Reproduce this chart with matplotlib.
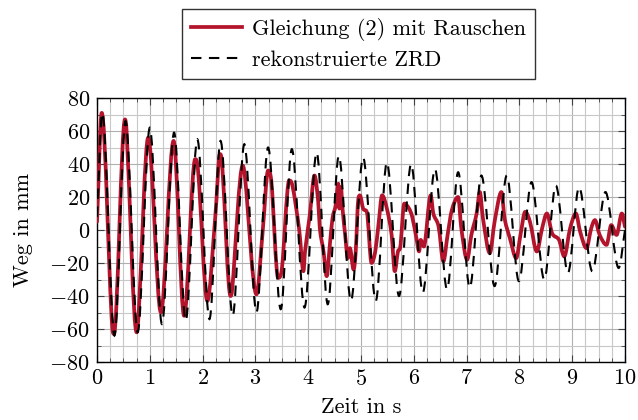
import matplotlib
matplotlib.use("Agg")
import matplotlib.pyplot as plt
from matplotlib.ticker import MultipleLocator
from matplotlib.path import Path
from matplotlib.patches import PathPatch
from matplotlib.lines import Line2D

# ---- data ----
# reconstructed ZRD (black dashed): extrema (time in s, displacement in mm)
zrd_t = [0.0, 0.10, 0.33, 0.54, 0.77, 1.00, 1.23, 1.46, 1.68, 1.90, 2.13, 2.34, 2.57,
         2.79, 3.02, 3.24, 3.48, 3.69, 3.93, 4.16, 4.37, 4.58, 4.81, 5.04, 5.28, 5.49,
         5.72, 5.95, 6.17, 6.40, 6.63, 6.84, 7.06, 7.28, 7.53, 7.76, 7.99, 8.23, 8.47,
         8.69, 8.92, 9.13, 9.38, 9.63, 9.88, 10.0]
zrd_y = [8, 71, -64, 66, -62, 62, -57, 59, -55, 55, -54, 54, -52,
         52, -50, 50, -48, 49, -47, 47, -45, 45, -43, 44, -43, 41,
         -40, 40, -38, 37, -36, 35, -35, 33, -34, 33, -31, 29, -30,
         27, -26, 26, -25, 23, -23, 0]

# equation (2) with noise (red)
eq_t = [0.00, 0.09, 0.29, 0.32, 0.53, 0.56, 0.75, 0.79, 0.97, 1.21, 1.45, 1.65, 1.86,
        1.90, 2.09, 2.24, 2.33, 2.37, 2.53, 2.56, 2.76, 2.80, 3.02, 3.14, 3.24, 3.30,
        3.43, 3.49, 3.64, 3.70, 3.83, 3.91, 3.94, 4.03, 4.12, 4.19, 4.22, 4.29, 4.35,
        4.41, 4.46, 4.52, 4.57, 4.59, 4.62, 4.65, 4.70, 4.75, 4.79, 4.86, 4.90, 4.95,
        4.98, 5.04, 5.11, 5.20, 5.27, 5.33, 5.40, 5.49, 5.58, 5.64, 5.70, 5.74, 5.82,
        5.91, 5.97, 6.05, 6.10, 6.13, 6.19, 6.32, 6.37, 6.47, 6.56, 6.64, 6.72, 6.84,
        6.90, 7.01, 7.09, 7.19, 7.25, 7.31, 7.44, 7.53, 7.66, 7.72, 7.82, 7.94, 8.02,
        8.11, 8.20, 8.33, 8.43, 8.52, 8.62, 8.75, 8.85, 8.96, 9.07, 9.15, 9.27, 9.36,
        9.43, 9.52, 9.65, 9.74, 9.84, 9.94, 10.0]
eq_y = [5, 71, -59, -63, 67, 60, -62, -50, 56, -50, 54, -52, 43,
        40, -43, 8, 46, 40, -40, -36, 39, 33, -39, 0, 36, 30,
        -29, -26, 30, 27, 0, -25, -13, 9, 33, 17, 1, -13, -28,
        -9, 7, 15, 28, 13, 26, 13, -3, -17, -11, -24, -13, 19,
        21, 13, 11, -20, -13, 3, 21, 13, -3, -25, -13, -11, 16,
        13, 8, -5, -13, -6, -10, 21, 10, 2, -19, -3, 12, 20,
        1, -18, -3, 10, 23, 7, -14, 5, 23, 7, -5, -17, -3,
        11, 5, -13, 1, 10, -2, -6, -16, 1, 10, -1, -11, 1,
        6, -3, -9, 3, -3, 10, 2]

x_ticks = [0, 1, 2, 3, 4, 5, 6, 7, 8, 9, 10]
y_ticks = [-80, -60, -40, -20, 0, 20, 40, 60, 80]


def smooth_path(xs, ys):
    """Monotone cubic (Hermite/Bezier) path through the data points, no overshoot."""
    n = len(xs)
    sec = [(ys[i + 1] - ys[i]) / (xs[i + 1] - xs[i]) for i in range(n - 1)]
    m = []
    for i in range(n):
        if i == 0:
            m.append(sec[0])
        elif i == n - 1:
            m.append(sec[-1])
        elif sec[i - 1] * sec[i] <= 0:
            m.append(0.0)
        else:
            g = (ys[i + 1] - ys[i - 1]) / (xs[i + 1] - xs[i - 1])
            lim = 3 * min(abs(sec[i - 1]), abs(sec[i]))
            g = max(-lim, min(lim, g))
            m.append(g)
    verts = [(xs[0], ys[0])]
    codes = [Path.MOVETO]
    for i in range(n - 1):
        h = xs[i + 1] - xs[i]
        verts += [(xs[i] + h / 3, ys[i] + m[i] * h / 3),
                  (xs[i + 1] - h / 3, ys[i + 1] - m[i + 1] * h / 3),
                  (xs[i + 1], ys[i + 1])]
        codes += [Path.CURVE4] * 3
    return Path(verts, codes)


# ---- style ----
plt.rcParams['font.family'] = ['cmr10', 'DejaVu Serif']
plt.rcParams['mathtext.fontset'] = 'cm'
plt.rcParams['axes.formatter.use_mathtext'] = True
plt.rcParams['axes.unicode_minus'] = True

RED = '#B3142C'
fs = 16
RED_LW = 2.7
ZRD_LW = 1.5
DASH = (5.0, 3.6)

fig = plt.figure(figsize=(6.38, 4.20), dpi=100)
ax = fig.add_axes([97/638, 1-362/420, (625-97)/638, (362-98)/420])

red_patch = PathPatch(smooth_path(eq_t, eq_y), fill=False, edgecolor=RED,
                      lw=RED_LW, joinstyle='round', capstyle='round', zorder=3)
ax.add_patch(red_patch)
zrd_patch = PathPatch(smooth_path(zrd_t, zrd_y), fill=False, edgecolor='black',
                      lw=ZRD_LW, linestyle=(0, DASH), capstyle='butt', zorder=4)
ax.add_patch(zrd_patch)

ax.set_xlim(0, 10)
ax.set_ylim(-80, 80)
ax.set_xticks(x_ticks)
ax.set_yticks(y_ticks)
ax.xaxis.set_minor_locator(MultipleLocator(0.25))
ax.yaxis.set_minor_locator(MultipleLocator(10))
ax.grid(which='major', color='#b0b0b0', lw=0.8)
ax.grid(which='minor', color='#c8c8c8', lw=0.8)
ax.set_axisbelow(True)
ax.tick_params(which='both', direction='in', top=True, right=True,
               labelsize=fs, color='#404040')
ax.tick_params(which='major', length=5, width=0.8, pad=5)
ax.tick_params(which='minor', length=3, width=0.6)
for s in ax.spines.values():
    s.set_linewidth(1.0)

ax.set_xlabel('Zeit in s', fontsize=fs, labelpad=6)
ax.set_ylabel('Weg in mm', fontsize=fs, labelpad=12)

handles = [Line2D([], [], color=RED, lw=RED_LW),
           Line2D([], [], color='black', lw=ZRD_LW, dashes=DASH)]
labels = ['Gleichung (2) mit Rauschen', 'rekonstruierte ZRD']
leg = fig.legend(handles, labels, loc='upper center', bbox_to_anchor=(0.562, 0.979),
                 ncol=1, fontsize=fs, frameon=True, fancybox=False, edgecolor='black',
                 handlelength=2.3, borderpad=0.42, labelspacing=0.4,
                 handletextpad=0.45, borderaxespad=0)
leg.get_frame().set_linewidth(1.0)

fig.savefig('out.png', dpi=100)
